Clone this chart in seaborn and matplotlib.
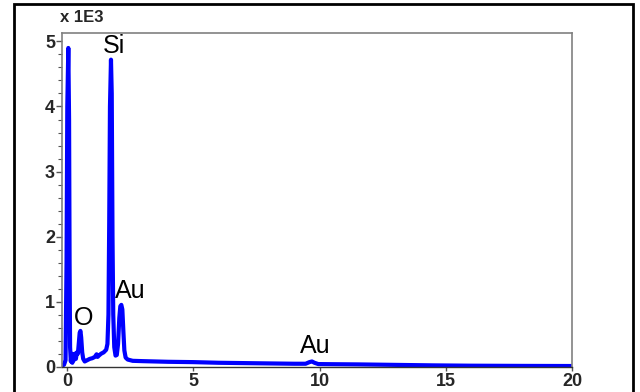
import matplotlib
matplotlib.use("Agg")
import matplotlib.pyplot as plt
import seaborn as sns
import pandas as pd
from matplotlib.patches import Rectangle
from matplotlib.ticker import MultipleLocator

sns.set_style("white")
plt.rcParams['font.family'] = ['Liberation Sans', 'DejaVu Sans']

energy_kev = [-0.18, -0.12, -0.06, -0.02, 0.01, 0.05, 0.08, 0.1, 0.12, 0.15, 0.18, 0.21,
              0.24, 0.27, 0.31, 0.35, 0.39, 0.43, 0.47, 0.5, 0.53, 0.56, 0.6, 0.64,
              0.7, 0.8, 0.9, 1.0, 1.1, 1.17, 1.21, 1.26, 1.35, 1.45, 1.55, 1.6, 1.64,
              1.67, 1.7, 1.74, 1.77, 1.8, 1.83, 1.87, 1.92, 1.97, 2.02, 2.07, 2.11,
              2.15, 2.19, 2.23, 2.27, 2.32, 2.4, 2.6, 3.0, 4.0, 5.0, 6.0, 7.0, 8.0,
              9.0, 9.45, 9.6, 9.7, 9.8, 9.95, 10.5, 11.5, 12.5, 13.5, 14.5, 16.0,
              18.0, 20.0]
counts_k3 = [0.02, 0.03, 0.1, 1.6, 4.0, 4.9, 3.8, 1.6, 0.3, 0.08, 0.2, 0.06,
             0.18, 0.1, 0.2, 0.12, 0.22, 0.2, 0.38, 0.52, 0.55, 0.45, 0.22, 0.12,
             0.08, 0.1, 0.12, 0.13, 0.15, 0.19, 0.15, 0.17, 0.2, 0.22, 0.26, 0.35, 0.8,
             2.2, 4.0, 4.72, 4.2, 2.0, 0.8, 0.3, 0.17, 0.18, 0.35, 0.75, 0.93,
             0.95, 0.88, 0.55, 0.25, 0.14, 0.11, 0.09, 0.085, 0.075, 0.07, 0.06, 0.055, 0.05,
             0.045, 0.045, 0.07, 0.08, 0.06, 0.04, 0.038, 0.035, 0.03, 0.025, 0.02, 0.015,
             0.012, 0.01]

peak_labels = ["Si", "O", "Au", "Au"]
peak_label_x = [1.87, 0.66, 2.5, 9.85]
peak_label_y = [4.83, 0.64, 1.06, 0.21]

x_ticks = [0, 5, 10, 15, 20]
y_ticks = [0, 1, 2, 3, 4, 5]

df = pd.DataFrame({"energy": energy_kev, "counts": counts_k3})

fig = plt.figure(figsize=(6.4, 3.92), dpi=100)
ax = fig.add_axes([62/640, 25/392, (572-62)/640, (367-33)/392])

sns.lineplot(data=df, x="energy", y="counts", color="#0000FF", linewidth=3,
             ax=ax, sort=False)

ax.set_xlim(-0.2, 20)
ax.set_ylim(-0.005, 5.13)
ax.set_xticks(x_ticks)
ax.set_yticks(y_ticks)
ax.set_xticklabels([str(v) for v in x_ticks], fontsize=13, fontweight='bold')
ax.set_yticklabels([str(v) for v in y_ticks], fontsize=13, fontweight='bold')
ax.yaxis.set_minor_locator(MultipleLocator(0.2))
ax.set_xlabel("")
ax.set_ylabel("")
ax.tick_params(axis='both', which='major', length=4, width=1,
               color='#555555', pad=1, direction='out')
ax.tick_params(axis='x', which='major', length=3, pad=1, bottom=True)
ax.tick_params(axis='y', which='minor', length=3, width=0.8, color='#555555', left=True)
ax.tick_params(axis='y', which='major', left=True)

for side in ['top', 'right', 'left']:
    ax.spines[side].set_color('#808080')
    ax.spines[side].set_linewidth(1.2)
ax.spines['bottom'].set_color('#333333')
ax.spines['bottom'].set_linewidth(1.0)

for t, xx, yy in zip(peak_labels, peak_label_x, peak_label_y):
    ax.text(xx, yy, t, fontsize=18, ha='center', va='baseline', color='black')

fig.text(60/640, 1 - 18/392, "x 1E3", fontsize=12, fontweight='bold',
         ha='left', va='center')

fig.patches.append(Rectangle((14/640, -0.02), (633-14)/640, 1.02 - 4/392,
                             transform=fig.transFigure, fill=False,
                             edgecolor='black', linewidth=2, zorder=10))

fig.savefig("out.png", dpi=100)
